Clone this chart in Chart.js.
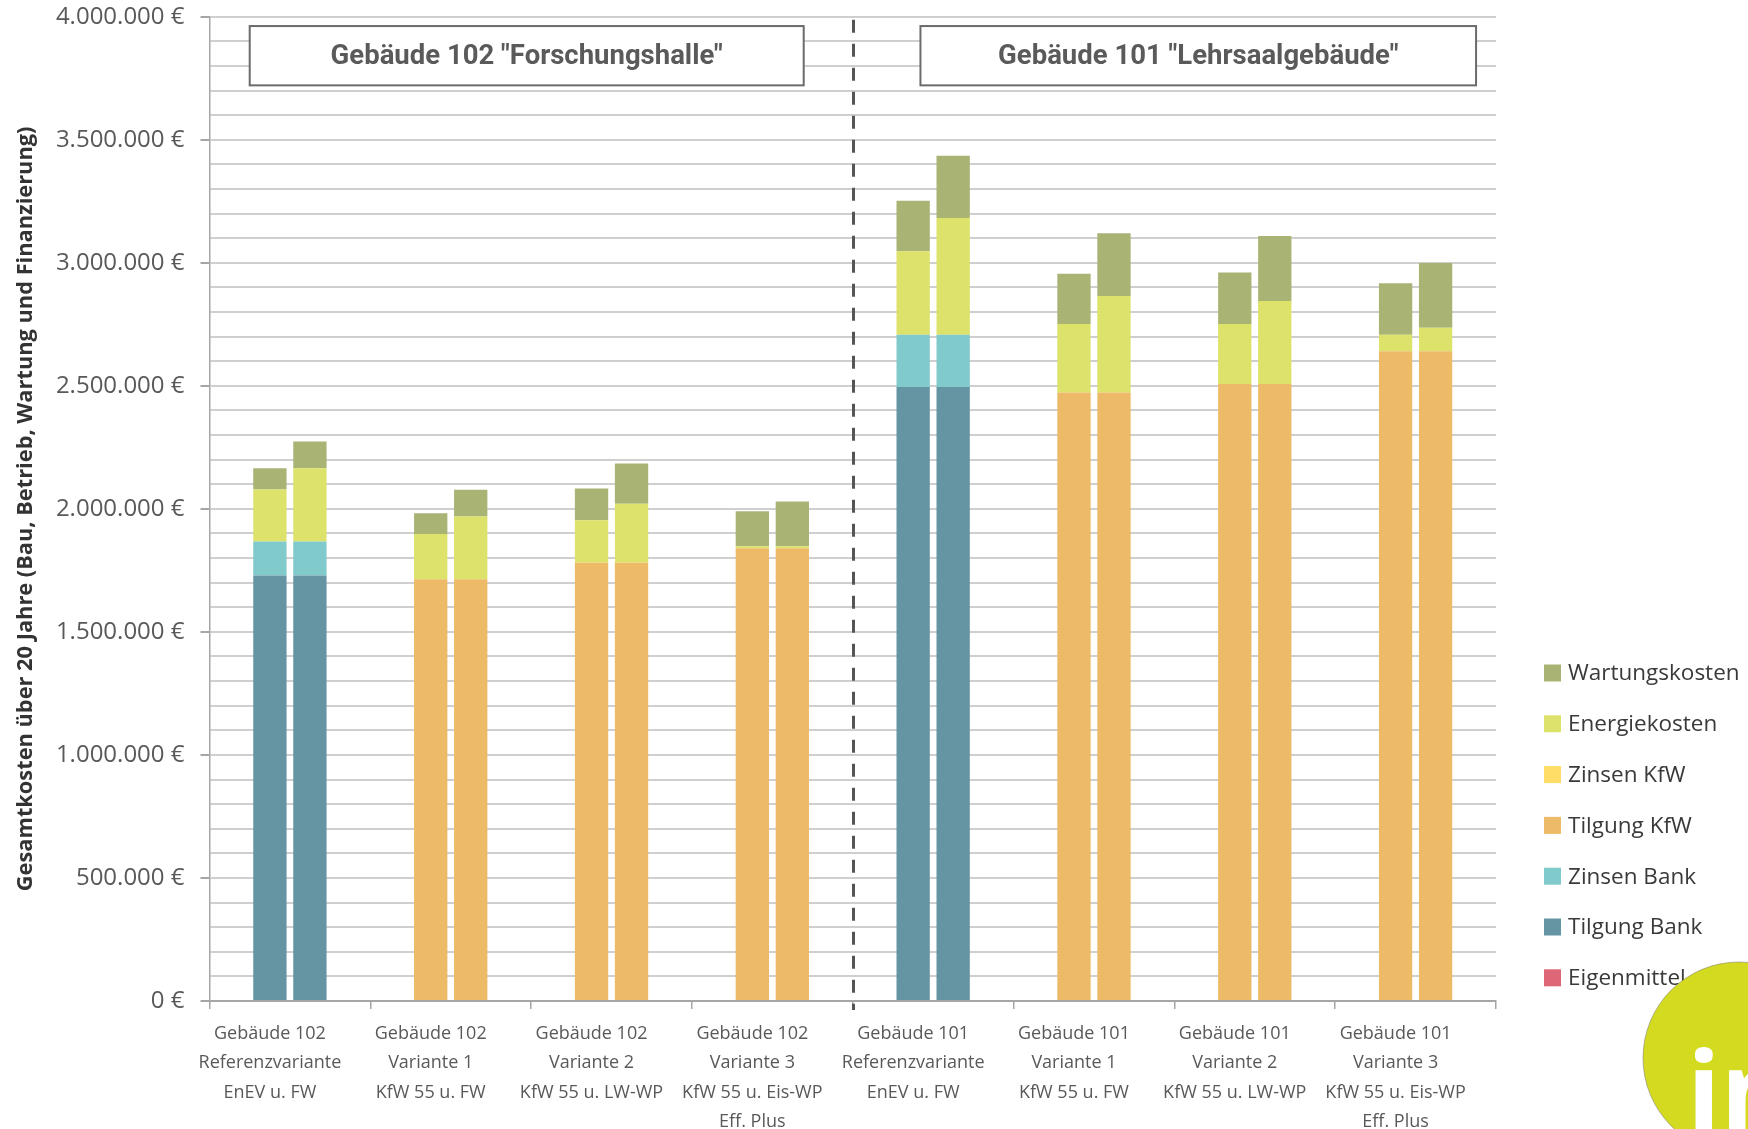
<!DOCTYPE html>
<html lang="de">
<head>
<meta charset="utf-8">
<title>Gesamtkosten über 20 Jahre</title>
<script src="https://cdn.jsdelivr.net/npm/chart.js@4.4.1/dist/chart.umd.min.js"></script>
<style>
  html, body { margin: 0; padding: 0; background: #ffffff; }
  #wrap { width: 1748px; height: 1129px; position: relative; overflow: hidden; }
</style>
</head>
<body>
<div id="wrap"><canvas id="chart" width="1748" height="1129"></canvas></div>
<script>
// ---- Categories (multi-line axis labels) ----
const categories = [
  ['Gebäude 102', 'Referenzvariante', 'EnEV u. FW'],
  ['Gebäude 102', 'Variante 1', 'KfW 55 u. FW'],
  ['Gebäude 102', 'Variante 2', 'KfW 55 u. LW-WP'],
  ['Gebäude 102', 'Variante 3', 'KfW 55 u. Eis-WP', 'Eff. Plus'],
  ['Gebäude 101', 'Referenzvariante', 'EnEV u. FW'],
  ['Gebäude 101', 'Variante 1', 'KfW 55 u. FW'],
  ['Gebäude 101', 'Variante 2', 'KfW 55 u. LW-WP'],
  ['Gebäude 101', 'Variante 3', 'KfW 55 u. Eis-WP', 'Eff. Plus']
];
const groupTitles = ['Gebäude 102 "Forschungshalle"', 'Gebäude 101 "Lehrsaalgebäude"'];
const axisTitle = 'Gesamtkosten über 20 Jahre (Bau, Betrieb, Wartung und Finanzierung)';

// ---- Cost components, stacked from bottom to top ----
const seriesNames = ['Eigenmittel', 'Tilgung Bank', 'Zinsen Bank', 'Tilgung KfW', 'Zinsen KfW', 'Energiekosten', 'Wartungskosten'];
const seriesColors = ['#dd6677', '#6595a3', '#80cacc', '#edbb67', '#ffdd66', '#dde36a', '#a9b374'];

// left bar of each pair (in €)
const eigenmittelA = [0, 0, 0, 0, 0, 0, 0, 0];
const tilgungBankA = [1729000, 0, 0, 0, 2495000, 0, 0, 0];
const zinsenBankA  = [138000, 0, 0, 0, 212000, 0, 0, 0];
const tilgungKfwA  = [0, 1714000, 1781000, 1840000, 0, 2473000, 2507000, 2640000];
const zinsenKfwA   = [0, 0, 0, 0, 0, 0, 0, 0];
const energieA     = [212000, 184000, 173000, 8000, 340000, 278000, 244000, 67000];
const wartungA     = [86000, 84000, 129000, 142000, 205000, 204000, 209000, 210000];

// right bar of each pair (in €)
const eigenmittelB = [0, 0, 0, 0, 0, 0, 0, 0];
const tilgungBankB = [1729000, 0, 0, 0, 2495000, 0, 0, 0];
const zinsenBankB  = [138000, 0, 0, 0, 212000, 0, 0, 0];
const tilgungKfwB  = [0, 1714000, 1781000, 1840000, 0, 2473000, 2507000, 2640000];
const zinsenKfwB   = [0, 0, 0, 0, 0, 0, 0, 0];
const energieB     = [298000, 255000, 240000, 8000, 475000, 392000, 338000, 96000];
const wartungB     = [109000, 109000, 163000, 182000, 253000, 255000, 264000, 263000];

// ---- Value axis ----
const yMin = 0;
const yMax = 4000000;
const yGridStep = 100000;
const yLabelStep = 500000;

const stackA = [eigenmittelA, tilgungBankA, zinsenBankA, tilgungKfwA, zinsenKfwA, energieA, wartungA];
const stackB = [eigenmittelB, tilgungBankB, zinsenBankB, tilgungKfwB, zinsenKfwB, energieB, wartungB];

function euro(v) {
  return String(Math.round(v)).replace(/\B(?=(\d{3})+(?!\d))/g, '.') + ' €';
}

const datasets = [];
[['A', stackA], ['B', stackB]].forEach(([stackId, rows]) => {
  rows.forEach((row, i) => {
    datasets.push({
      label: seriesNames[i],
      data: row,
      stack: stackId,
      backgroundColor: seriesColors[i],
      borderWidth: 0
    });
  });
});

// Group headers, separator line, legend and logo
const extrasPlugin = {
  id: 'extras',
  afterDraw(chart) {
    const { ctx } = chart;
    const x = chart.scales.x;
    const y = chart.scales.y;
    ctx.save();

    // dashed separator between the two buildings
    const sepX = Math.round(x.getPixelForValue(3.5)) + 0.5;
    ctx.beginPath();
    ctx.setLineDash([13, 11]);
    ctx.lineDashOffset = -3;
    ctx.lineWidth = 3;
    ctx.strokeStyle = '#555555';
    ctx.moveTo(sepX, y.getPixelForValue(yMax));
    ctx.lineTo(sepX, y.bottom + 9);
    ctx.stroke();
    ctx.setLineDash([]);

    // header boxes
    const boxes = [
      { from: -0.25, to: 3.195, text: groupTitles[0] },
      { from: 3.921, to: 7.376, text: groupTitles[1] }
    ];
    const boxTop = y.getPixelForValue(3962000);
    const boxBottom = y.getPixelForValue(3721000);
    boxes.forEach(b => {
      const l = x.getPixelForValue(b.from);
      const r = x.getPixelForValue(b.to);
      ctx.fillStyle = '#ffffff';
      ctx.fillRect(l, boxTop, r - l, boxBottom - boxTop);
      ctx.lineWidth = 2;
      ctx.strokeStyle = '#6b6b6b';
      ctx.strokeRect(l, boxTop, r - l, boxBottom - boxTop);
      ctx.fillStyle = '#5a5a5a';
      ctx.font = 'bold 27.5px Roboto';
      ctx.textAlign = 'center';
      ctx.textBaseline = 'middle';
      ctx.fillText(b.text, (l + r) / 2, (boxTop + boxBottom) / 2 + 1);
    });

    // legend (top entry = top of the stack)
    const items = chart.data.datasets.filter(d => d.stack === 'A').slice().reverse();
    const lx = 1544, ly0 = 673, step = 50.8, box = 17;
    ctx.font = '22.5px "Open Sans"';
    ctx.textAlign = 'left';
    ctx.textBaseline = 'middle';
    items.forEach((d, i) => {
      const cy = ly0 + i * step;
      ctx.fillStyle = d.backgroundColor;
      ctx.fillRect(lx, cy - box / 2, box, box);
      ctx.fillStyle = '#3a3a3a';
      ctx.fillText(d.label, lx + 24, cy + 1);
    });

    // logo in the lower right corner
    ctx.beginPath();
    ctx.arc(1739, 1058, 96, 0, Math.PI * 2);
    ctx.fillStyle = '#d4da1f';
    ctx.fill();
    ctx.lineWidth = 1;
    ctx.strokeStyle = 'rgba(120,120,120,0.5)';
    ctx.stroke();
    ctx.fillStyle = '#ffffff';
    ctx.font = 'bold 110px "Open Sans"';
    ctx.textAlign = 'left';
    ctx.textBaseline = 'alphabetic';
    ctx.fillText('in', 1687, 1130);

    ctx.restore();
  }
};

new Chart(document.getElementById('chart'), {
  type: 'bar',
  data: { labels: categories, datasets },
  plugins: [extrasPlugin],
  options: {
    responsive: false,
    animation: false,
    layout: { padding: { top: 16.7, right: 252, bottom: 0, left: 0 } },
    datasets: { bar: { categoryPercentage: 0.4975, barPercentage: 0.833 } },
    plugins: {
      legend: { display: false },
      tooltip: { enabled: false }
    },
    scales: {
      x: {
        stacked: true,
        offset: true,
        grid: { offset: true, drawOnChartArea: false, drawTicks: true, tickLength: 8, color: '#a6a6a6', lineWidth: 1.5 },
        border: { color: '#a6a6a6', width: 2 },
        ticks: {
          autoSkip: false, maxRotation: 0, minRotation: 0, padding: 10,
          labelOffset: -20,
          color: '#595959',
          font: { family: '"Open Sans"', size: 18, lineHeight: 1.64 }
        },
        afterFit(scale) { scale.height = 128; scale.paddingLeft = 0; scale.paddingRight = 0; }
      },
      y: {
        stacked: true,
        min: yMin,
        max: yMax,
        ticks: {
          stepSize: yGridStep, autoSkip: false, padding: 16,
          color: '#595959',
          font: { family: '"Open Sans"', size: 24 },
          callback: v => (v % yLabelStep === 0 ? euro(v) : '')
        },
        grid: {
          color: '#cfcfcf', lineWidth: 2, tickLength: 9,
          tickColor: c => (c.tick && c.tick.value % yLabelStep === 0 ? '#a6a6a6' : 'rgba(0,0,0,0)')
        },
        border: { color: '#a6a6a6', width: 1.5 },
        title: {
          display: true,
          text: axisTitle,
          color: '#333333',
          font: { family: '"Open Sans"', size: 21.8, weight: 'bold', lineHeight: 1.2 },
          padding: { top: 12.5, bottom: 0 }
        },
        afterFit(scale) { scale.width = 209.5; scale.paddingTop = 0; scale.paddingBottom = 0; }
      }
    }
  }
});
</script>
</body>
</html>
